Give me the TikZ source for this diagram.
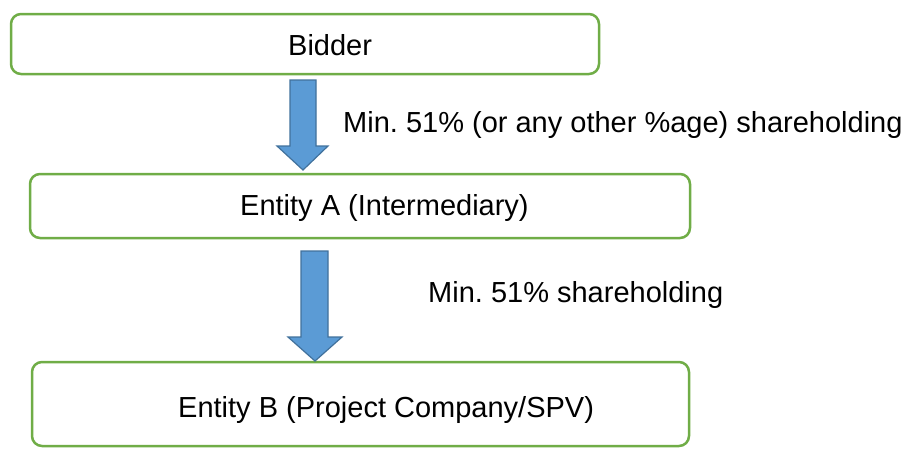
\documentclass[tikz,border=0pt]{standalone}
\usepackage{fontspec}
\setmainfont{Liberation Sans}
\definecolor{boxgreen}{HTML}{70AD47}
\definecolor{arrowfill}{HTML}{5B9BD5}
\definecolor{arrowdraw}{HTML}{41719C}
\frenchspacing
\begin{document}
\begin{tikzpicture}[x=1pt,y=-1pt,
  entbox/.style={draw=boxgreen,line width=2.5pt,rounded corners=10pt,fill=white},
  blockarrow/.style={fill=arrowfill,draw=arrowdraw,line width=1.2pt,line join=miter},
  txt/.style={anchor=base west,inner sep=0pt,font=\fontsize{29}{35}\selectfont}]
\useasboundingbox (0,0) rectangle (909,448);
% boxes
\draw[entbox] (11,14) rectangle (599,74);
\draw[entbox] (30,174) rectangle (690,238);
\draw[entbox] (32,362) rectangle (689,446);
% box texts
\node[txt] (bidder) at (288,55) {Bidder};
\node[txt] (entA) at (240,215) {Entity A (Intermediary)};
\node[txt] (entB) at (178,417) {Entity B (Project Company/SPV)};
% block arrows
\draw[blockarrow] (290,80) -- (316,80) -- (316,146) -- (328,146) -- (303,170) -- (277,146) -- (290,146) -- cycle;
\draw[blockarrow] (301,251) -- (328,251) -- (328,337) -- (342,337) -- (315,361) -- (288,337) -- (301,337) -- cycle;
% labels
\node[txt] (lab1) at (343,132) {Min. 51\% (or any other \%age) shareholding};
\node[txt] (lab2) at (428,302) {Min. 51\% shareholding};
\end{tikzpicture}
\end{document}
